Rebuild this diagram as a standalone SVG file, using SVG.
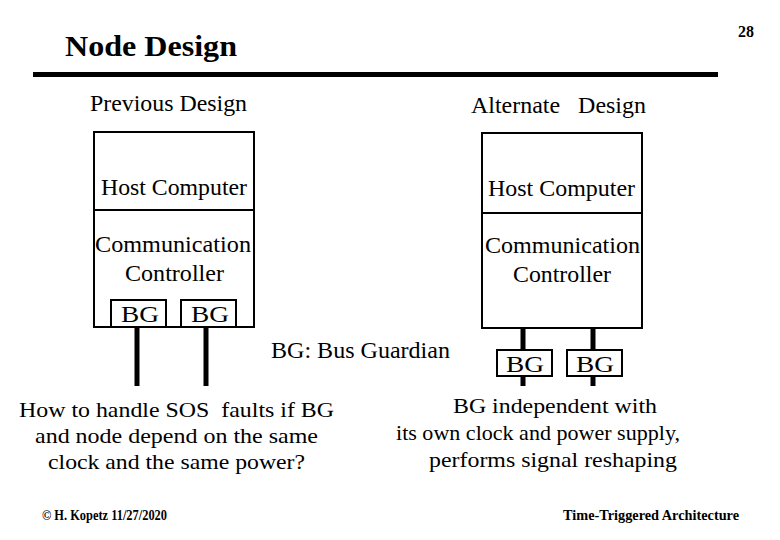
<svg xmlns="http://www.w3.org/2000/svg" width="780" height="540" viewBox="0 0 780 540">
<style>
.t{font-family:'Liberation Serif','Times New Roman',serif;font-size:23px;font-weight:normal;fill:#000}
.s{font-family:'Liberation Serif','Times New Roman',serif;font-size:22px;font-weight:normal;fill:#000}
.b{font-family:'Liberation Serif','Times New Roman',serif;font-weight:bold;fill:#000}
.box{fill:#fff;stroke:#000;stroke-width:2}
.bus{stroke:#000;stroke-width:5;fill:none}
.div{stroke:#000;stroke-width:2}
</style>
<rect width="780" height="540" fill="#fff"/>
<g id="header">
<text x="65" y="56" class="b" font-size="30" textLength="172" lengthAdjust="spacingAndGlyphs">Node Design</text>
<text x="738" y="37" class="b" font-size="16">28</text>
<rect x="33" y="72" width="685" height="5" fill="#000"/>
</g>
<text x="90" y="111" class="t" textLength="157" lengthAdjust="spacingAndGlyphs">Previous Design</text>
<text x="471" y="113" class="t" xml:space="preserve" textLength="175" lengthAdjust="spacingAndGlyphs">Alternate   Design</text>
<g id="connectors">
<line class="bus" x1="137" y1="327" x2="137" y2="386"/>
<line class="bus" x1="206" y1="327" x2="206" y2="386"/>
<line class="bus" x1="523" y1="328" x2="523" y2="386"/>
<line class="bus" x1="593" y1="328" x2="593" y2="386"/>
</g>
<g id="node-previous">
<rect class="box" x="94" y="132" width="160" height="195"/>
<line class="div" x1="94" y1="210" x2="254" y2="210"/>
<text x="101" y="195" class="t" textLength="146" lengthAdjust="spacingAndGlyphs">Host Computer</text>
<text x="95" y="252" class="t" textLength="156" lengthAdjust="spacingAndGlyphs">Communication</text>
<text x="125" y="281" class="t" textLength="99" lengthAdjust="spacingAndGlyphs">Controller</text>
</g>
<g id="bg-prev-1">
<rect class="box" x="111" y="300" width="55" height="27"/>
<text x="121" y="322" class="t" textLength="38" lengthAdjust="spacingAndGlyphs">BG</text>
</g>
<g id="bg-prev-2">
<rect class="box" x="181" y="300" width="55" height="27"/>
<text x="191" y="322" class="t" textLength="38" lengthAdjust="spacingAndGlyphs">BG</text>
</g>
<g id="node-alternate">
<rect class="box" x="482" y="133" width="160" height="195"/>
<line class="div" x1="482" y1="213" x2="642" y2="213"/>
<text x="488" y="196" class="t" textLength="147" lengthAdjust="spacingAndGlyphs">Host Computer</text>
<text x="485" y="253" class="t" textLength="155" lengthAdjust="spacingAndGlyphs">Communication</text>
<text x="513" y="282" class="t" textLength="98" lengthAdjust="spacingAndGlyphs">Controller</text>
</g>
<g id="bg-alt-1">
<rect class="box" x="497" y="350" width="55" height="26"/>
<text x="506" y="372" class="t" textLength="38" lengthAdjust="spacingAndGlyphs">BG</text>
</g>
<g id="bg-alt-2">
<rect class="box" x="567" y="350" width="55" height="26"/>
<text x="576" y="372" class="t" textLength="38" lengthAdjust="spacingAndGlyphs">BG</text>
</g>
<text x="271" y="358" class="t" textLength="179" lengthAdjust="spacingAndGlyphs">BG: Bus Guardian</text>
<g id="note-left">
<text x="19" y="417" class="s" xml:space="preserve" textLength="315" lengthAdjust="spacingAndGlyphs">How to handle SOS  faults if BG</text>
<text x="35" y="443" class="s" textLength="283" lengthAdjust="spacingAndGlyphs">and node depend on the same</text>
<text x="48" y="469" class="s" textLength="257" lengthAdjust="spacingAndGlyphs">clock and the same power?</text>
</g>
<g id="note-right">
<text x="453" y="413" class="s" textLength="204" lengthAdjust="spacingAndGlyphs">BG independent with</text>
<text x="396" y="440" class="s" textLength="284" lengthAdjust="spacingAndGlyphs">its own clock and power supply,</text>
<text x="429" y="467" class="s" textLength="248" lengthAdjust="spacingAndGlyphs">performs signal reshaping</text>
</g>
<g id="footer">
<text x="42" y="520" class="b" font-size="14" textLength="125" lengthAdjust="spacingAndGlyphs">© H. Kopetz  11/27/2020</text>
<text x="563" y="520" class="b" font-size="15" textLength="176" lengthAdjust="spacingAndGlyphs">Time-Triggered Architecture</text>
</g>
</svg>
